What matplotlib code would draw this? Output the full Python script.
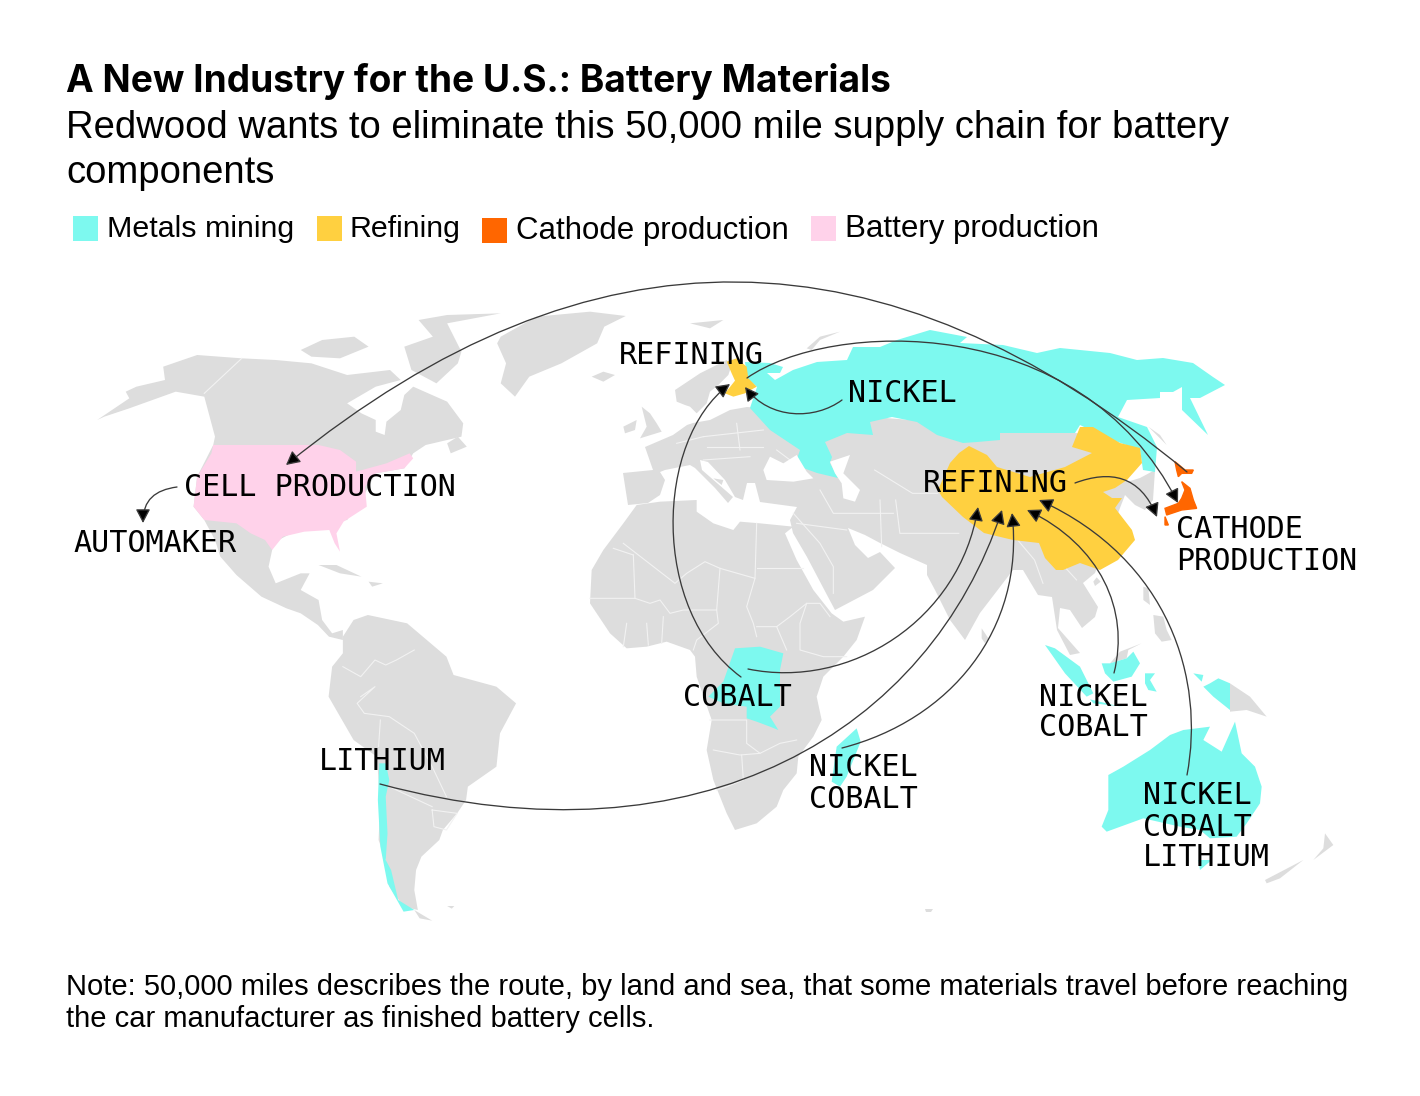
import matplotlib
matplotlib.use('Agg')
import matplotlib.pyplot as plt
from matplotlib.patches import Polygon, Rectangle, FancyArrowPatch
from matplotlib.path import Path

GRAY = '#dddddd'
TEAL = '#7df9ef'
YELLOW = '#ffd040'
ORANGE = '#ff6600'
PINK = '#ffd2ea'

title = 'A New Industry for the U.S.: Battery Materials'
subtitle = ['Redwood wants to eliminate this 50,000 mile supply chain for battery', 'components']
note = ['Note: 50,000 miles describes the route, by land and sea, that some materials travel before reaching',
        'the car manufacturer as finished battery cells.']
legend_names = ['Metals mining', 'Refining', 'Cathode production', 'Battery production']
legend_colors = [TEAL, YELLOW, ORANGE, PINK]


def crop(pts, x0, y0, sx=3.0, sy=3.0):
    return [(x0 + x / sx, y0 + y / sy) for x, y in pts]


# ---- gray land
north_america = crop([(20, 420), (110, 355), (100, 335), (130, 320), (210, 300), (205, 260), (300, 225), (425, 235),
                      (520, 240), (620, 250), (720, 285), (840, 270), (870, 300), (800, 320), (720, 370), (760, 400),
                      (800, 420), (800, 455), (825, 465), (830, 425), (870, 390), (880, 345), (905, 320), (1000, 365),
                      (1045, 430), (1040, 470), (940, 495), (905, 520), (880, 565), (800, 580), (770, 640), (720, 720),
                      (600, 740), (510, 790), (510, 810), (500, 860), (520, 910), (590, 880), (615, 880), (590, 930),
                      (640, 960), (650, 1020), (678, 1060), (708, 1050), (708, 1080), (669, 1070), (638, 1035),
                      (590, 1000), (550, 985), (480, 950), (410, 885), (365, 830), (350, 780),
                      (320, 720), (290, 680), (300, 590), (345, 495), (350, 470), (320, 350), (240, 335), (110, 385),
                      (40, 410)], 90, 280, 2.8)
greenland = crop([(1150, 170), (1250, 110), (1400, 95), (1500, 108), (1440, 140), (1420, 190), (1320, 250), (1230, 290),
                  (1190, 350), (1150, 310), (1165, 250), (1140, 190)], 90, 280, 2.8)
arctic_a = crop([(590, 210), (650, 180), (740, 170), (780, 200), (700, 235), (620, 230)], 90, 280, 2.8)
arctic_b = crop([(920, 120), (1000, 105), (1150, 100), (1000, 130), (1040, 215), (1030, 250), (970, 310), (900, 270),
                 (880, 200), (960, 170)], 90, 280, 2.8)
newfoundland = crop([(1000, 490), (1030, 470), (1055, 500), (1010, 520)], 90, 280, 2.8)
cuba = crop([(640, 855), (690, 855), (760, 890), (700, 880)], 90, 280, 2.8)
hispaniola = crop([(780, 905), (820, 910), (790, 920)], 90, 280, 2.8)
south_america = crop([(120, 110), (150, 60), (190, 45), (300, 70), (410, 170), (430, 225), (550, 260), (605, 310),
                      (560, 400), (550, 500), (470, 560), (465, 600), (440, 640), (400, 690), (390, 720), (340, 770),
                      (325, 810), (320, 870), (330, 930), (290, 920), (250, 860), (240, 780), (220, 720), (225, 600),
                      (220, 540), (215, 470), (150, 420), (80, 290), (90, 200), (120, 160)], 300, 600, 2.8)
tierra = crop([(320, 930), (370, 962), (335, 955)], 300, 600, 2.8)
falklands = crop([(412, 918), (432, 918), (425, 926)], 300, 600, 2.8)
africa = crop([(170, 75), (240, 65), (350, 60), (350, 95), (400, 130), (460, 150), (480, 125), (540, 130), (640, 140),
               (615, 160), (650, 240), (700, 330), (755, 400), (790, 425), (855, 410), (830, 480), (790, 530), (730, 590),
               (710, 650), (725, 720), (700, 770), (655, 830), (650, 880), (610, 930), (590, 980), (530, 1030), (465, 1050),
               (440, 1000), (400, 900), (380, 810), (395, 720), (350, 590), (345, 530), (330, 510), (260, 485), (200, 500),
               (140, 505), (90, 460), (30, 370), (35, 270), (70, 210), (130, 130)], 580, 480)
eurasia = [(628, 505), (623, 473), (653, 470), (645, 447), (673, 435), (687, 425), (693, 423), (710, 420), (730, 410),
           (747, 407), (1100, 435), (1127, 482), (1140, 478), (1155, 470), (1153, 500), (1145, 510), (1135, 505),
           (1125, 495), (1100, 560), (1095, 573), (1083, 583), (1098, 607), (1095, 617), (1082, 628), (1070, 610),
           (1060, 608), (1058, 628), (1080, 653), (1070, 655), (1057, 630), (1052, 597), (1038, 595), (1023, 570),
           (1013, 570), (980, 613), (965, 640), (950, 620), (935, 590), (927, 575), (927, 565), (900, 553), (880, 543),
           (865, 535), (848, 528), (855, 545), (868, 558), (880, 552), (895, 568), (873, 590), (835, 610), (827, 595),
           (807, 557), (793, 533), (790, 520), (797, 507), (760, 502), (755, 483), (747, 483), (743, 500), (735, 497),
           (725, 480), (708, 462), (700, 460), (702, 470), (725, 490), (733, 497), (728, 503), (715, 488), (695, 468),
           (690, 465), (665, 470), (660, 472), (665, 480), (660, 495), (648, 503)]
scandinavia = crop([(255, 240), (330, 190), (410, 150), (425, 165), (415, 195), (385, 225), (360, 245), (350, 280),
                    (320, 310), (300, 290), (285, 285), (260, 275)], 590, 310)
britain = crop([(155, 290), (180, 310), (200, 340), (215, 365), (150, 385), (170, 350)], 590, 310)
ireland = crop([(100, 350), (140, 330), (135, 360), (105, 370)], 590, 310)
iceland = crop([(5, 200), (40, 185), (75, 195), (40, 215)], 590, 310)
svalbard = crop([(300, 40), (400, 30), (360, 55)], 590, 310)
novaya = crop([(650, 115), (690, 80), (750, 65), (690, 90), (665, 120)], 590, 310)
sicily = crop([(370, 505), (400, 510), (395, 525)], 590, 310)
sakhalin = crop([(805, 320), (840, 345), (860, 375), (830, 345)], 880, 320)
sri_lanka = crop([(5, 265), (25, 295), (15, 310), (5, 295)], 980, 540)
taiwan = crop([(350, 112), (362, 125), (345, 138), (340, 125)], 980, 540)
luzon = crop([(490, 140), (505, 145), (510, 195), (490, 180)], 980, 540)
mindanao = crop([(520, 225), (550, 230), (560, 270), (575, 300), (545, 305), (525, 280)], 980, 540)
sabah = crop([(390, 370), (420, 335), (485, 310), (445, 330), (440, 355)], 980, 540)
png = crop([(750, 430), (810, 470), (860, 530), (800, 510), (750, 515)], 980, 540)
nz_north = crop([(1035, 880), (1060, 915), (1000, 960), (1030, 925)], 980, 540)
nz_south = crop([(970, 960), (900, 1015), (860, 1030), (855, 1020)], 980, 540)
antarctic_dot = [(925, 909), (933, 909), (931, 912), (926, 912)]
gray_land = [north_america, greenland, arctic_a, arctic_b, newfoundland, cuba, hispaniola, south_america, tierra, falklands,
             africa, eurasia, scandinavia, britain, ireland, iceland, svalbard, novaya, sicily, sakhalin, sri_lanka, taiwan,
             luzon, mindanao, sabah, png, nz_north, nz_south, antarctic_dot]

# ---- highlighted countries
usa = crop([(345, 495), (640, 495), (700, 510), (745, 545), (745, 575), (830, 550), (895, 520), (905, 535), (880, 565),
            (800, 580), (770, 620), (775, 680), (710, 725), (690, 760), (700, 815), (685, 790), (670, 750), (600, 755),
            (540, 770), (510, 810), (490, 780), (450, 760), (410, 730), (320, 720), (290, 680), (300, 590), (340, 520)],
           90, 280, 2.8)
russia = [(745, 362), (770, 363), (783, 367), (780, 373), (767, 373), (775, 380), (793, 370), (817, 362), (847, 360),
          (853, 347), (880, 347), (897, 340), (930, 330), (967, 337), (960, 343), (1003, 345), (1037, 353), (1060, 348),
          (1110, 353), (1137, 360), (1163, 358), (1193, 363), (1213, 377), (1225, 385), (1200, 398), (1190, 398),
          (1208, 435), (1182, 410), (1182, 387), (1173, 392), (1160, 392), (1160, 398), (1127, 400), (1118, 417),
          (1147, 427), (1157, 447), (1155, 472), (1143, 470), (1140, 450), (1107, 438), (1080, 425), (1075, 433),
          (1000, 433), (1000, 440), (977, 442), (963, 443), (937, 435), (917, 422), (892, 417), (870, 422), (873, 435),
          (847, 433), (825, 442), (832, 457), (830, 463), (838, 478), (817, 473), (795, 465), (800, 450), (770, 430),
          (750, 408), (757, 387), (747, 378)]
drc = crop([(465, 505), (540, 500), (610, 520), (600, 570), (600, 680), (570, 710), (595, 750), (570, 740), (530, 725),
            (500, 715), (500, 680), (465, 675), (430, 670), (385, 650), (430, 605)], 580, 480)
chile_a = crop([(222, 490), (240, 490), (250, 540), (240, 590), (245, 700), (240, 780), (255, 810), (275, 900), (320, 930),
                (290, 935), (245, 850), (225, 740), (218, 600)], 300, 600, 2.8)
madagascar = crop([(830, 745), (842, 785), (800, 890), (780, 920), (755, 905), (770, 800)], 580, 480)
sumatra = crop([(195, 315), (225, 325), (300, 380), (340, 460), (320, 470), (255, 400)], 980, 540)
java = crop([(330, 478), (400, 495), (430, 500), (340, 490)], 980, 540)
borneo = crop([(365, 370), (390, 370), (440, 355), (460, 335), (480, 370), (455, 410), (400, 425), (375, 400)], 980, 540)
sulawesi = crop([(495, 400), (525, 400), (510, 420), (530, 455), (505, 450), (495, 430)], 980, 540)
papua = crop([(690, 430), (715, 415), (750, 430), (750, 510), (700, 470), (670, 440)], 980, 540)
halmahera = crop([(640, 400), (670, 405), (665, 425)], 980, 540)
australia = crop([(385, 705), (430, 680), (510, 630), (570, 585), (610, 570), (690, 560), (670, 600), (725, 635), (765, 545),
                  (785, 640), (825, 680), (845, 740), (840, 790), (800, 850), (770, 890), (690, 895), (660, 870), (600, 860),
                  (490, 835), (380, 875), (365, 860), (385, 810)], 980, 540)
tasmania = crop([(655, 960), (695, 960), (660, 990)], 980, 540)
mining = [russia, drc, chile_a, madagascar, sumatra, java, borneo, sulawesi, papua, halmahera, australia, tasmania]

china = [(969, 446), (987, 455), (997, 467), (1030, 477), (1065, 467), (1092, 453), (1072, 447), (1080, 427), (1093, 427),
         (1120, 443), (1140, 448), (1142, 463), (1127, 480), (1115, 488), (1103, 492), (1112, 498), (1122, 498), (1115, 508),
         (1132, 530), (1135, 540), (1118, 560), (1100, 570), (1080, 563), (1063, 570), (1056, 570), (1045, 558), (1039, 543),
         (1013, 540), (984, 533), (963, 517), (942, 497), (938, 490), (950, 463), (959, 453)]
finland = crop([(410, 155), (440, 145), (470, 170), (475, 205), (500, 230), (465, 250), (430, 260), (405, 250), (435, 212),
                (425, 190)], 590, 310)
refining = [china, finland]

hokkaido = crop([(375, 125), (405, 150), (430, 150), (425, 160), (395, 160), (385, 170), (380, 150)], 1050, 420)
honshu = crop([(395, 185), (420, 205), (430, 240), (440, 265), (395, 270), (350, 285), (345, 265), (385, 250), (395, 235),
               (405, 210)], 1050, 420)
kyushu = crop([(345, 290), (355, 315), (345, 315)], 1050, 420)
cathode = [hokkaido, honshu, kyushu]

# ---- seas painted back on top
caspian = crop([(720, 455), (780, 435), (760, 490), (810, 540), (795, 575), (760, 565), (755, 520), (735, 490)], 590, 310)
black_sea = crop([(520, 480), (540, 440), (580, 460), (620, 435), (650, 485), (670, 505), (610, 515), (530, 510)], 590, 310)

# ---- thin white borders
borders = [
    crop(b, 580, 480) for b in [
        [(130, 190), (285, 310), (320, 280), (375, 245), (420, 265), (525, 295), (530, 130)],
        [(525, 295), (500, 380), (520, 430), (530, 470)],
        [(530, 265), (670, 265)],
        [(160, 225), (165, 355), (30, 355)],
        [(100, 205), (160, 225)],
        [(165, 355), (210, 370), (240, 360), (270, 400), (310, 390), (410, 390), (420, 265)],
        [(410, 390), (415, 430), (350, 480), (340, 510)],
        [(530, 440), (590, 440), (630, 410), (680, 370), (720, 370), (750, 410)],
        [(680, 370), (660, 430), (660, 510), (730, 530), (800, 530)],
        [(590, 440), (620, 510)],
        [(400, 810), (480, 825), (540, 820), (600, 790), (650, 780)],
        [(485, 825), (490, 900), (440, 920), (410, 930)],
        [(390, 720), (500, 720), (500, 790), (540, 820)],
        [(200, 430), (205, 495)], [(250, 410), (245, 490)], [(140, 430), (130, 500)],
        [(640, 100), (720, 190), (760, 260), (760, 340)],
        [(650, 130), (800, 150)],
        [(900, 60), (905, 200)],
        [(720, 30), (760, 100), (940, 100)],
    ]
] + [
    crop(b, 590, 310) for b in [
        [(340, 380), (520, 360)], [(440, 340), (450, 420)], [(340, 450), (480, 440)],
        [(260, 400), (340, 380)], [(560, 420), (600, 450)], [(350, 410), (520, 410)],
    ]
] + [
    crop(b, 580, 320, 2.376) for b in [
        [(700, 450), (790, 520), (850, 520)], [(750, 540), (760, 640), (900, 640)],
        [(1040, 660), (1080, 720), (1100, 790)], [(1100, 670), (1180, 780)],
    ]
] + [
    crop(b, 300, 600, 2.8) for b in [
        [(120, 200), (170, 230), (210, 180), (240, 195), (270, 180), (320, 150)],
        [(170, 290), (210, 260), (160, 310), (180, 340), (250, 350), (320, 400), (370, 500), (410, 590)],
        [(225, 360), (220, 440)],
        [(370, 630), (440, 640), (410, 690), (375, 680), (370, 630)],
        [(250, 560), (310, 590), (370, 620)],
    ]
] + [
    crop([(425, 235), (320, 340)], 90, 280, 2.8),
]

# ---- arrows: start, two controls, tip
arcs = [
    [(1187, 472), (885, 222), (590, 218), (286, 465)],
    [(747, 378), (830, 320), (1080, 310), (1178, 503)],
    [(842, 400), (815, 420), (770, 420), (745, 387)],
    [(741, 677), (650, 610), (655, 440), (730, 384)],
    [(748, 669), (850, 690), (960, 620), (978, 507)],
    [(380, 784), (700, 870), (930, 730), (1002, 510)],
    [(842, 748), (950, 720), (1025, 630), (1012, 513)],
    [(1114, 673), (1130, 610), (1100, 545), (1027, 510)],
    [(1187, 775), (1205, 680), (1170, 560), (1039, 500)],
    [(1075, 483), (1110, 470), (1140, 475), (1157, 517)],
    [(177, 487), (155, 490), (143, 500), (143, 523)],
]

labels = [
    ('REFINING', 619, 356), ('NICKEL', 848, 394), ('REFINING', 923, 483), ('CELL PRODUCTION', 184, 487),
    ('AUTOMAKER', 73, 543), ('CATHODE', 1176, 529), ('PRODUCTION', 1176, 562), ('COBALT', 683, 697),
    ('LITHIUM', 319, 761), ('NICKEL', 809, 768), ('COBALT', 809, 800), ('NICKEL', 1039, 697), ('COBALT', 1039, 728),
    ('NICKEL', 1143, 795), ('COBALT', 1143, 828), ('LITHIUM', 1143, 858),
]

fig = plt.figure(figsize=(14.2, 10.96), dpi=100)
ax = fig.add_axes([0, 0, 1, 1])
ax.set_xlim(0, 1420)
ax.set_ylim(1096, 0)
ax.axis('off')

for shape in gray_land:
    ax.add_patch(Polygon(shape, closed=True, fc=GRAY, ec='none', zorder=1))
for line in borders:
    xs, ys = zip(*line)
    ax.plot(xs, ys, color='#f2f2f2', lw=0.8, zorder=2)
ax.add_patch(Polygon(usa, closed=True, fc=PINK, ec='none', zorder=3))
for shape in mining:
    ax.add_patch(Polygon(shape, closed=True, fc=TEAL, ec='none', zorder=3))
for shape in refining:
    ax.add_patch(Polygon(shape, closed=True, fc=YELLOW, ec='none', zorder=4))
for shape in cathode:
    ax.add_patch(Polygon(shape, closed=True, fc=ORANGE, ec=ORANGE, lw=1, zorder=4))
for shape in [caspian, black_sea]:
    ax.add_patch(Polygon(shape, closed=True, fc='white', ec='none', zorder=5))

for pts in arcs:
    p = Path(pts, [Path.MOVETO, Path.CURVE4, Path.CURVE4, Path.CURVE4])
    ax.add_patch(FancyArrowPatch(path=p, arrowstyle='-|>,head_length=4.2,head_width=2.2', mutation_scale=2.0,
                                 lw=0.95, color='#3a3a3a', fc='black', zorder=6))

for text, x, y in labels:
    ax.text(x, y, text, family='DejaVu Sans Mono', fontsize=21.7, color='black', ha='left', va='center', zorder=7)

ax.text(66, 82, title, family='Inter', fontweight='bold', fontsize=26.7, color='black', va='center')
ax.text(66, 128, subtitle[0], family='Liberation Sans', fontsize=27.5, color='black', va='center')
ax.text(66, 173, subtitle[1], family='Liberation Sans', fontsize=27.5, color='black', va='center')

legend_x = [73, 316.5, 482, 811]
legend_text_x = [107, 349, 516, 845]
legend_y = [216, 216, 218, 216]
legend_size = [21.9, 21.9, 22.5, 22.5]
for name, col, bx, tx, by, fs in zip(legend_names, legend_colors, legend_x, legend_text_x, legend_y, legend_size):
    ax.add_patch(Rectangle((bx, by), 25, 25, fc=col, ec='none'))
    ax.text(tx, by + 13, name, family='Liberation Sans', fontsize=fs, color='black', va='center')

ax.text(66, 987, note[0], family='Liberation Sans', fontsize=21, color='black', va='center')
ax.text(66, 1019, note[1], family='Liberation Sans', fontsize=21, color='black', va='center')

fig.savefig('out.png', dpi=100, facecolor='white')
